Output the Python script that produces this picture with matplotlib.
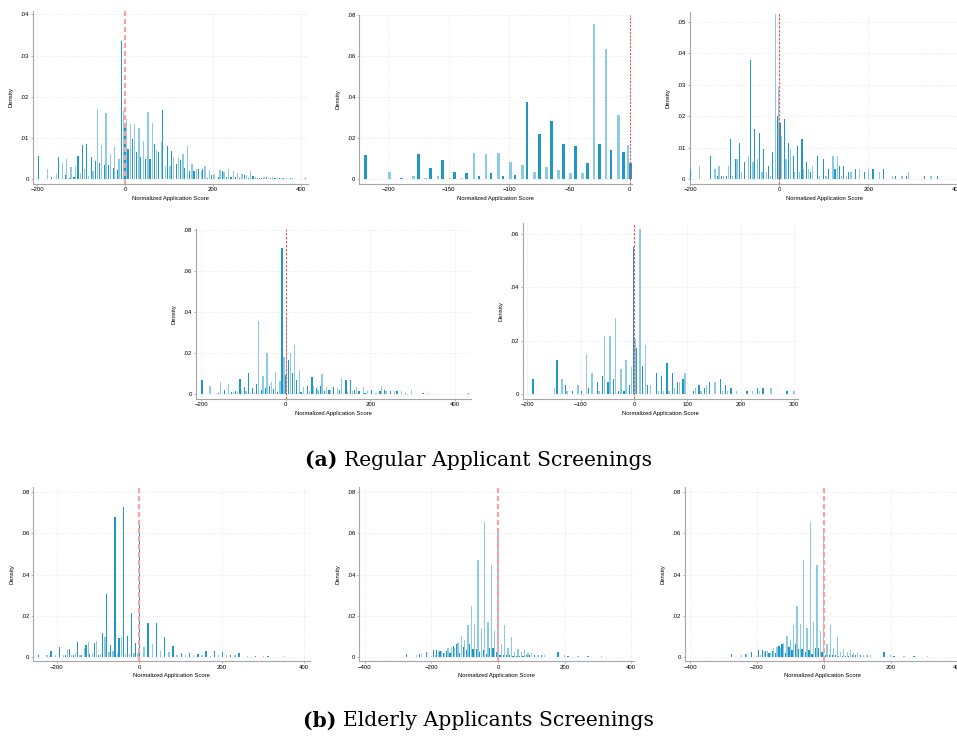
import matplotlib
matplotlib.use("Agg")
import matplotlib.pyplot as plt
from matplotlib.ticker import FuncFormatter

# ---------------- data (bar centre, density) ----------------
p1_x = [-197, -176.5, -167, -155, -152, -142, -136, -133, -125, -123, -116, -112, -107, -102, -97, -92,
        -87, -83, -76.5, -73, -67, -63, -57.6, -53, -47, -43, -37, -33, -27, -23.5, -17, -13.6, -7.6,
        -3.8, 0, 3, 7, 12, 17, 22, 26.5, 32, 36, 42, 47, 52, 57, 62, 67, 72, 76.5, 82.5, 86, 92, 96,
        102, 106, 111, 117, 122, 126.5, 132, 136, 142, 146, 152, 157, 163, 167, 173, 176.5, 182, 187,
        192, 197, 202, 213, 216, 222, 225, 231, 236, 241, 246, 251, 256, 261, 266, 271, 276, 281, 286,
        291, 296, 301, 306, 311, 316, 321, 326, 331, 336, 341, 346, 351, 357, 361, 367, 376, 381, 410]
p1_h = [0.0056, 0.0024, 0.0006, 0.0012, 0.0053, 0.0039, 0.0011, 0.0050, 0.0003, 0.0031, 0.0006, 0.0032,
        0.0057, 0.0015, 0.0082, 0.0024, 0.0085, 0.0007, 0.0054, 0.0019, 0.0044, 0.0170, 0.0039, 0.0082,
        0.0035, 0.0160, 0.0035, 0.0062, 0.0027, 0.0081, 0.0023, 0.0050, 0.0335, 0.0165, 0.0127, 0.0147,
        0.0074, 0.0135, 0.0097, 0.0135, 0.0065, 0.0124, 0.0053, 0.0092, 0.0048, 0.0162, 0.0048, 0.0137,
        0.0085, 0.0071, 0.0065, 0.0090, 0.0167, 0.0032, 0.0080, 0.0032, 0.0068, 0.0053, 0.0037, 0.0051,
        0.0047, 0.0062, 0.0027, 0.0080, 0.0021, 0.0036, 0.0019, 0.0024, 0.0026, 0.0020, 0.0024, 0.0033,
        0.0003, 0.0023, 0.0011, 0.0012, 0.0006, 0.0023, 0.0019, 0.0017, 0.0005, 0.0024, 0.0005, 0.0020,
        0.0006, 0.0015, 0.0004, 0.0012, 0.0011, 0.0011, 0.0004, 0.0021, 0.0007, 0.0006, 0.0002, 0.0002,
        0.0004, 0.0006, 0.0005, 0.0003, 0.0002, 0.0005, 0.0003, 0.0004, 0.0003, 0.0002, 0.0003, 0.0002,
        0.0002, 0.0002, 0.0002]

p2_x = [-218.8, -199, -189, -179, -175, -169, -165, -159, -155, -149, -145, -139, -135, -129, -125, -119,
        -115, -109, -105, -99, -95, -89, -85, -79, -75, -69, -65, -59, -55, -49, -45, -39, -35, -29.6,
        -25, -19.6, -15.5, -9.4, -5.2, -1.4, 0.8]
p2_h = [0.0118, 0.0036, 0.0005, 0.0016, 0.0121, 0.0005, 0.0055, 0.0015, 0.0092, 0.0008, 0.0034, 0.0005,
        0.0029, 0.0126, 0.0016, 0.0125, 0.0032, 0.0126, 0.0015, 0.0086, 0.0021, 0.0071, 0.0377, 0.0034,
        0.0222, 0.0062, 0.0282, 0.0044, 0.0170, 0.0032, 0.0160, 0.0029, 0.0079, 0.0758, 0.0170, 0.0633,
        0.0144, 0.0311, 0.0131, 0.0167, 0.0081]

p3_x = [-199, -180, -155, -144.6, -139, -135.6, -129.6, -125, -118, -115, -109, -105, -99, -95, -89, -85,
        -79, -70, -65, -59, -55, -49, -45, -39, -35, -29, -25, -19, -15, -9, -5, -1.5, 1.5, 4.5, 11, 15,
        21, 25, 31, 35, 41, 45, 51, 55, 61, 65, 70, 75, 85, 90, 100, 105, 111, 120.6, 125, 130, 135,
        140, 145, 150.5, 155, 161, 171, 180.5, 191, 200.7, 210.5, 225.5, 235, 255, 260.7, 275.7, 286,
        290.6, 326, 341, 356]
p3_h = [0.0033, 0.0043, 0.0075, 0.0033, 0.0012, 0.0043, 0.0012, 0.0012, 0.0012, 0.0043, 0.0128, 0.0012,
        0.0064, 0.0064, 0.0116, 0.0023, 0.0054, 0.0075, 0.0378, 0.0054, 0.0160, 0.0064, 0.0148, 0.0023,
        0.0096, 0.0023, 0.0043, 0.0012, 0.0086, 0.0524, 0.0201, 0.0293, 0.0180, 0.0138, 0.0190, 0.0064,
        0.0116, 0.0096, 0.0075, 0.0023, 0.0106, 0.0023, 0.0128, 0.0033, 0.0054, 0.0033, 0.0023, 0.0043,
        0.0075, 0.0012, 0.0064, 0.0012, 0.0033, 0.0075, 0.0033, 0.0075, 0.0043, 0.0012, 0.0043, 0.0012,
        0.0023, 0.0023, 0.0033, 0.0033, 0.0023, 0.0033, 0.0033, 0.0023, 0.0033, 0.0012, 0.0012, 0.0012,
        0.0012, 0.0023, 0.0012, 0.0012, 0.0012]

p4_x = [-198, -179, -158, -154, -144, -135, -128, -124, -118, -114, -108, -104, -98, -94, -88, -83.5, -78,
        -74, -68.5, -64, -58, -53.5, -48, -44, -38, -34, -28, -24, -19, -13.4, -8.7, -4, -1, 2.4, 6.3,
        12, 15.7, 21, 26, 32, 36, 41.7, 52, 56, 62, 66, 72.4, 76, 82.7, 86, 92, 96, 102, 106, 112.6, 123,
        127, 132, 142.5, 146.5, 153, 157, 163, 167, 173, 183, 187, 193, 203, 213, 223, 227, 233, 237, 247,
        257.5, 263, 273, 283, 298, 324, 338, 432]
p4_h = [0.0068, 0.0040, 0.0006, 0.0060, 0.0019, 0.0049, 0.0008, 0.0008, 0.0013, 0.0008, 0.0074, 0.0013,
        0.0034, 0.0013, 0.0102, 0.0006, 0.0028, 0.0008, 0.0049, 0.0356, 0.0019, 0.0087, 0.0028, 0.0199,
        0.0040, 0.0060, 0.0026, 0.0109, 0.0008, 0.0062, 0.0709, 0.0178, 0.0094, 0.0371, 0.0165, 0.0198,
        0.0102, 0.0238, 0.0068, 0.0117, 0.0008, 0.0034, 0.0040, 0.0013, 0.0083, 0.0040, 0.0028, 0.0019,
        0.0040, 0.0096, 0.0013, 0.0034, 0.0019, 0.0019, 0.0034, 0.0028, 0.0019, 0.0076, 0.0068, 0.0013,
        0.0068, 0.0013, 0.0019, 0.0034, 0.0013, 0.0034, 0.0006, 0.0013, 0.0019, 0.0006, 0.0013, 0.0040,
        0.0019, 0.0013, 0.0013, 0.0013, 0.0013, 0.0013, 0.0006, 0.0019, 0.0006, 0.0006, 0.0006]

p5_x = [-189, -148.6, -144, -135, -128.6, -125, -115, -105, -98.6, -88.6, -85, -78.6, -68.7, -65, -58.7,
        -55, -48.7, -45, -38.7, -35, -28.7, -24.3, -18.7, -15, -8.7, -4.4, -0.6, 1.8, 5, 11.2, 15.6, 21.8,
        25.6, 31.2, 41.8, 45.6, 51.8, 55.6, 61.8, 65.5, 71.8, 75.5, 81.8, 85.5, 91.8, 95.5, 111.7, 115.5,
        121.7, 125.5, 131.7, 136, 141.7, 151.7, 161.7, 165.4, 171.7, 175.4, 181.6, 191.6, 211.6, 221.6,
        231.6, 235.3, 241.6, 256, 286, 300]
p5_h = [0.0056, 0.0023, 0.0126, 0.0058, 0.0034, 0.0011, 0.0011, 0.0035, 0.0011, 0.0150, 0.0023, 0.0080,
        0.0046, 0.0011, 0.0068, 0.0219, 0.0046, 0.0219, 0.0058, 0.0286, 0.0011, 0.0093, 0.0011, 0.0126,
        0.0035, 0.0103, 0.0550, 0.0208, 0.0173, 0.0619, 0.0105, 0.0183, 0.0035, 0.0035, 0.0080, 0.0011,
        0.0069, 0.0011, 0.0115, 0.0011, 0.0080, 0.0023, 0.0046, 0.0046, 0.0056, 0.0080, 0.0011, 0.0023,
        0.0035, 0.0011, 0.0023, 0.0035, 0.0046, 0.0046, 0.0058, 0.0011, 0.0035, 0.0011, 0.0023, 0.0011,
        0.0011, 0.0011, 0.0023, 0.0011, 0.0023, 0.0023, 0.0011, 0.0011]

p6_x = [-244, -224, -214, -204, -194, -184, -179, -174, -170, -164, -160, -154, -149.5, -144, -140, -133,
        -129, -124, -120, -114, -109, -104, -99, -94, -89, -83, -79, -73.5, -69.5, -64, -59, -53, -49,
        -43.6, -39, -33, -29, -23.4, -19.4, -13, -9, -3.2, 0.8, 11, 21, 31.5, 41, 52, 61.4, 72, 81.6, 91,
        102, 111.5, 122, 132, 142, 152, 161.6, 172, 182, 191.5, 202, 212, 221.4, 232, 241.6, 262, 282,
        301, 312, 351.5]
p6_h = [0.0006, 0.0006, 0.0026, 0.0006, 0.0048, 0.0006, 0.0006, 0.0034, 0.0037, 0.0006, 0.0006, 0.0016,
        0.0071, 0.0006, 0.0006, 0.0040, 0.0058, 0.0073, 0.0013, 0.0016, 0.0069, 0.0078, 0.0006, 0.0013,
        0.0115, 0.0094, 0.0305, 0.0024, 0.0058, 0.0029, 0.0682, 0.0015, 0.0089, 0.0094, 0.0727, 0.0013,
        0.0103, 0.0013, 0.0215, 0.0016, 0.0065, 0.0016, 0.0666, 0.0045, 0.0162, 0.0061, 0.0166, 0.0026,
        0.0097, 0.0023, 0.0050, 0.0010, 0.0016, 0.0010, 0.0018, 0.0010, 0.0015, 0.0010, 0.0026, 0.0005,
        0.0026, 0.0006, 0.0023, 0.0006, 0.0006, 0.0006, 0.0018, 0.0003, 0.0003, 0.0003, 0.0003, 0.0003]

p7_x = [-275, -245, -235, -230, -215, -200, -194, -188, -184, -178, -174, -169, -164, -160, -154, -150,
        -144, -140, -134, -130, -125, -120, -115, -110, -104, -100, -95, -90, -85, -80, -75, -70, -65,
        -60, -55, -50, -44, -40, -35, -30, -25, -20, -15, -10, -5, 0, 6, 10, 16, 20, 25, 30, 35, 40, 45,
        50, 55, 60, 65, 70, 75, 80, 85, 90, 95, 100, 110, 120, 130, 140, 180, 200, 210, 240, 270, 310]
p7_h = [0.0013, 0.0006, 0.0013, 0.0013, 0.0023, 0.0005, 0.0032, 0.0008, 0.0032, 0.0023, 0.0029, 0.0029,
        0.0016, 0.0016, 0.0026, 0.0040, 0.0018, 0.0045, 0.0053, 0.0042, 0.0060, 0.0069, 0.0018, 0.0103,
        0.0047, 0.0079, 0.0034, 0.0152, 0.0063, 0.0249, 0.0037, 0.0160, 0.0037, 0.0472, 0.0023, 0.0142,
        0.0032, 0.0656, 0.0013, 0.0168, 0.0040, 0.0444, 0.0040, 0.0126, 0.0023, 0.0614, 0.0008, 0.0060,
        0.0008, 0.0152, 0.0008, 0.0044, 0.0008, 0.0094, 0.0005, 0.0021, 0.0005, 0.0036, 0.0005, 0.0024,
        0.0005, 0.0032, 0.0008, 0.0019, 0.0008, 0.0016, 0.0008, 0.0008, 0.0008, 0.0008, 0.0023, 0.0008,
        0.0005, 0.0005, 0.0005, 0.0005]

# panel 8 shows the same distribution as panel 7
p8_x = list(p7_x)
p8_h = list(p7_h)

x_label = "Normalized Application Score"
y_label = "Density"
caption_a = ("(a)", "Regular Applicant Screenings")
caption_b = ("(b)", "Elderly Applicants Screenings")

# ---------------- figure ----------------
W, H = 957, 741
fig = plt.figure(figsize=(W / 100, H / 100), dpi=100)
fig.patch.set_facecolor("white")

DARK = "#1f97c7"
LIGHT = "#8dcbe4"
TICK_FS = 4.3
LAB_FS = 4.2
SANS = ["Liberation Sans", "DejaVu Sans"]


def fmt(v, pos):
    if abs(v) < 1e-12:
        return "0"
    return ("%.2f" % v).replace("0.", ".", 1)


def panel(xs, hs, L, R, T, B, xlim, ylim, xticks, yticks, width, red_lw, red_col):
    ax = fig.add_axes([L / W, 1 - B / H, (R - L) / W, (B - T) / H])
    cols = [DARK if i % 2 == 0 else LIGHT for i in range(len(xs))]
    ax.bar(xs, hs, width=width, color=cols, linewidth=0, zorder=3)
    ax.axvline(0, color=red_col, lw=red_lw, ls=(0, (2.2, 1.4)), zorder=4)
    ax.set_xlim(*xlim)
    ax.set_ylim(*ylim)
    ax.set_xticks(xticks)
    ax.set_yticks(yticks)
    ax.yaxis.set_major_formatter(FuncFormatter(fmt))
    ax.grid(True, color="#dcdcdc", lw=0.55, ls=(0, (1, 2)), zorder=0)
    for s in ("top", "right"):
        ax.spines[s].set_visible(False)
    for s in ("left", "bottom"):
        ax.spines[s].set_color("#a6a6a6")
        ax.spines[s].set_linewidth(0.8)
    ax.tick_params(length=1.6, width=0.6, color="#a6a6a6", pad=1.2, labelsize=TICK_FS)
    for lab in ax.get_xticklabels() + ax.get_yticklabels():
        lab.set_family(SANS)
    ax.set_xlabel(x_label, fontsize=LAB_FS, family=SANS, labelpad=2.5)
    ax.set_ylabel(y_label, fontsize=LAB_FS, family=SANS, labelpad=5)
    ax.set_facecolor("white")
    return ax


# row 1
panel(p1_x, p1_h, 33, 308, 11, 183.5, (-209.1, 415.9), (-0.00102, 0.0408),
      [-200, 0, 200, 400], [0, 0.01, 0.02, 0.03, 0.04], 2.8, 1.6, "#f5a3a3")
panel(p2_x, p2_h, 359.3, 632, 14.7, 183.5, (-224.1, 1.9), (-0.00204, 0.0801),
      [-200, -150, -100, -50, 0], [0, 0.02, 0.04, 0.06, 0.08], 2.2, 0.7, "#e34a4a")
panel(p3_x, p3_h, 689.5, 960, 11.7, 183.5, (-201.8, 406), (-0.00133, 0.0532),
      [-200, 0, 200, 400], [0, 0.01, 0.02, 0.03, 0.04, 0.05], 2.6, 0.8, "#e85555")
# row 2
panel(p4_x, p4_h, 196, 471, 229.3, 398.5, (-211.9, 437.7), (-0.00219, 0.0801),
      [-200, 0, 200, 400], [0, 0.02, 0.04, 0.06, 0.08], 3.0, 0.8, "#e85555")
panel(p5_x, p5_h, 522.7, 798, 223, 398.5, (-208.4, 307.1), (-0.00169, 0.0641),
      [-200, -100, 0, 100, 200, 300], [0, 0.02, 0.04, 0.06], 3.0, 0.8, "#e85555")
# row 3
panel(p6_x, p6_h, 33.3, 310, 487, 661, (-257, 413.8), (-0.00209, 0.0826),
      [-200, 0, 200, 400], [0, 0.02, 0.04, 0.06, 0.08], 3.2, 1.6, "#f5a3a3")
panel(p7_x, p7_h, 359.3, 634, 487, 661, (-416.1, 408), (-0.00209, 0.0826),
      [-400, -200, 0, 200, 400], [0, 0.02, 0.04, 0.06, 0.08], 3.6, 1.6, "#f5a3a3")
panel(p8_x, p8_h, 685, 960, 487, 661, (-415, 407.5), (-0.00209, 0.0826),
      [-400, -200, 0, 200, 400], [0, 0.02, 0.04, 0.06, 0.08], 3.6, 1.6, "#f5a3a3")

# captions
SERIF = ["DejaVu Serif"]
CAP_FS = 14.6


def caption(y_px, parts):
    t1 = fig.text(0, 0, parts[0] + " ", fontsize=CAP_FS, family=SERIF, weight="bold")
    t2 = fig.text(0, 0, parts[1], fontsize=CAP_FS, family=SERIF)
    fig.canvas.draw()
    r = fig.canvas.get_renderer()
    w1 = t1.get_window_extent(r).width
    w2 = t2.get_window_extent(r).width
    x0 = (W - (w1 + w2)) / 2
    yb = 1 - y_px / H
    t1.set_position((x0 / W, yb))
    t2.set_position(((x0 + w1) / W, yb))
    t1.set_va("center")
    t2.set_va("center")


caption(460, caption_a)
caption(721, caption_b)

fig.savefig("out.png", dpi=100)
